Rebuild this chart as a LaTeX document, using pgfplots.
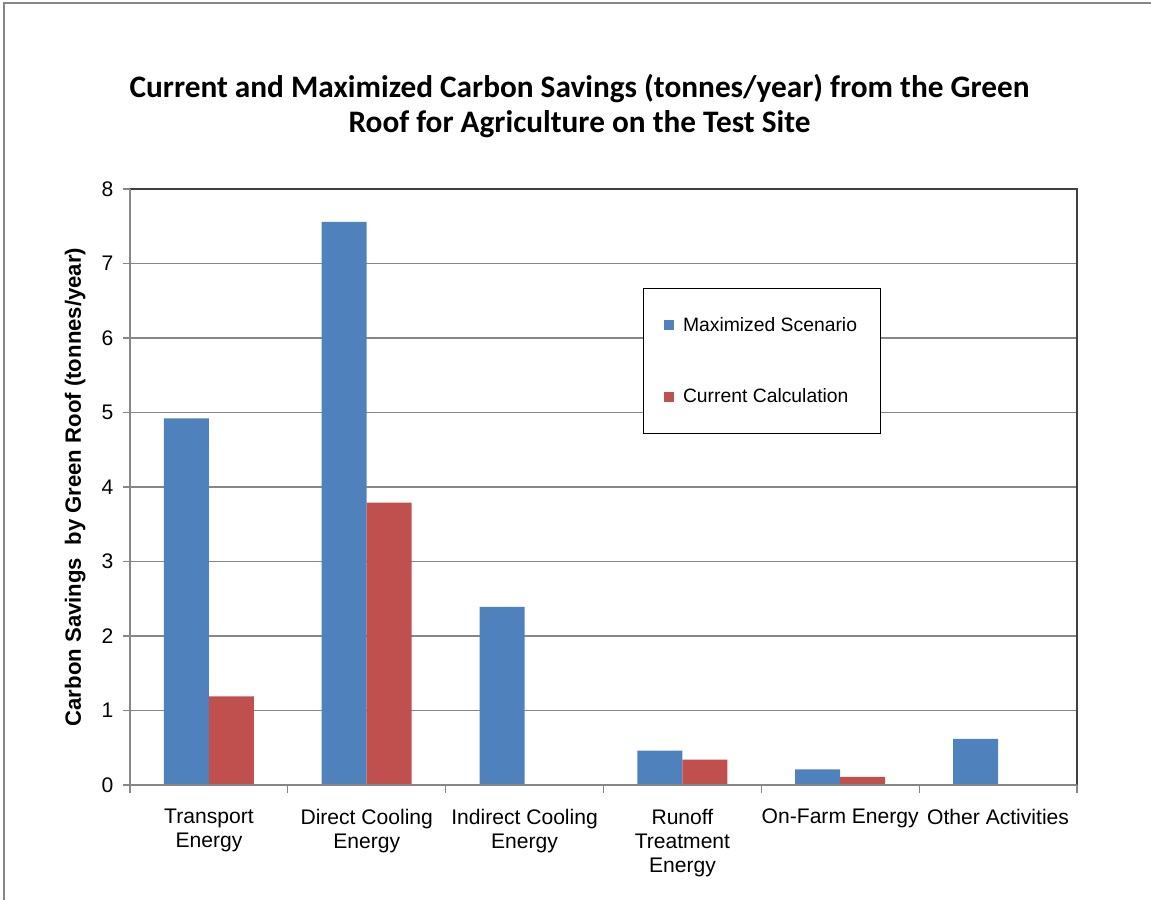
\documentclass[border=0pt]{standalone}
\usepackage{pgfplots}
\pgfplotsset{compat=1.18}
\usepackage{fontspec}
\setmainfont{Liberation Sans}
\newfontfamily\titlefont{Carlito}
\definecolor{maxblue}{HTML}{4F81BD}
\definecolor{curred}{HTML}{C0504D}
\definecolor{axgray}{HTML}{868686}

% small filled square as legend key, with some room after it
\pgfplotsset{sqlegend/.style={legend image code/.code={\path[##1] (0cm,-0.1cm) rectangle (0.2cm,0.1cm); \path (0.32cm,0cm);}}}

% Carbon savings per source (tonnes/year)
\pgfplotstableread{
x  maxi  curr
0  4.92  1.19
1  7.56  3.79
2  2.39  0
3  0.46  0.34
4  0.21  0.11
5  0.62  0
}\savings

\begin{document}
\begin{tikzpicture}
\useasboundingbox (0,0) rectangle (23.02cm,-18cm);
\draw[axgray, line width=0.6pt] (0.08cm,-18cm) -- (0.08cm,-0.06cm) -- (23.02cm,-0.06cm);
\begin{axis}[
  at={(2.6cm,-15.7cm)}, anchor=south west,
  width=18.94cm, height=11.92cm, scale only axis,
  ybar=0pt, bar width=0.9cm,
  xmin=-0.5, xmax=5.5, ymin=0, ymax=8,
  ytick={0,1,...,8},
  xtick={-0.5,0.5,...,5.5},
  xticklabels={},
  extra x ticks={0,1,2,3,4,5},
  extra x tick labels={{Transport\\Energy},{Direct Cooling\\Energy},{Indirect Cooling\\Energy},{Runoff\\Treatment\\Energy},{On-Farm Energy},{Other Activities}},
  extra x tick style={major tick length=0pt, grid=none},
  tick align=outside, tick pos=left,
  major tick length=0.15cm,
  tick style={axgray, line width=0.6pt},
  ymajorgrids, grid style={axgray, line width=0.6pt},
  axis line style={draw=none},
  /pgf/number format/assume math mode=true,
  ticklabel style={font=\fontsize{12}{13.6}\selectfont},
  xticklabel style={align=center, yshift=-0.36cm},
  yticklabel style={xshift=-0.06cm},
  title={Current and Maximized Carbon Savings (tonnes/year) from the Green\\Roof for Agriculture on the Test Site},
  title style={align=center, font=\titlefont\bfseries\fontsize{17.8}{20}\selectfont,
    at={(axis description cs:0.4747,1.122)}, anchor=center},
  ylabel={Carbon Savings\ \ by Green Roof (tonnes/year)},
  ylabel style={font=\bfseries\fontsize{12.6}{14}\selectfont,
    at={(axis description cs:-0.058,0.5)}, anchor=center},
  legend style={at={(axis description cs:0.5417,0.8339)}, anchor=north west,
    draw=black, line width=0.6pt, fill=white,
    font=\fontsize{11}{13}\selectfont,
    inner xsep=0.4cm, inner ysep=0.5cm, row sep=0.96cm},
  legend cell align=left,
  after end axis/.code={
    \draw[black!75, line width=0.7pt] (rel axis cs:0,1) -- (rel axis cs:1,1) -- (rel axis cs:1,0);
    \draw[axgray, line width=0.7pt] (rel axis cs:0,1) -- (rel axis cs:0,0) -- (rel axis cs:1,0);
  },
]
\addplot[fill=maxblue, draw=none, sqlegend] table[x=x, y=maxi] {\savings};
\addlegendentry{Maximized Scenario}
\addplot[fill=curred, draw=none, sqlegend] table[x=x, y=curr] {\savings};
\addlegendentry{Current Calculation}
\end{axis}
\end{tikzpicture}
\end{document}
